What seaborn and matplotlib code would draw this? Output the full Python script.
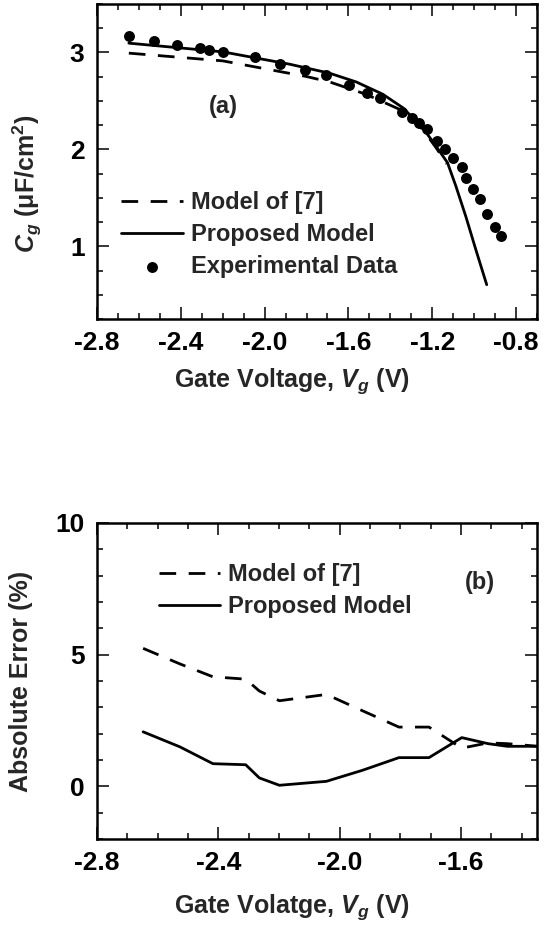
import matplotlib
matplotlib.use("Agg")
import matplotlib.pyplot as plt
from matplotlib.ticker import MultipleLocator, FormatStrFormatter
import seaborn as sns
import pandas as pd

# ---- Panel (a) data ----
exp_vg = [-2.648, -2.527, -2.418, -2.310, -2.265, -2.199, -2.044, -1.925, -1.805,
          -1.706, -1.598, -1.511, -1.448, -1.346, -1.297, -1.262, -1.225, -1.175,
          -1.138, -1.103, -1.059, -1.040, -1.005, -0.973, -0.941, -0.900, -0.873]
exp_cg = [3.165, 3.120, 3.079, 3.050, 3.024, 3.000, 2.955, 2.886, 2.820,
          2.765, 2.660, 2.586, 2.527, 2.386, 2.324, 2.276, 2.214, 2.086,
          2.000, 1.914, 1.817, 1.707, 1.594, 1.483, 1.335, 1.197, 1.110]

prop_vg = [-2.648, -2.199, -1.881, -1.690, -1.563, -1.436, -1.341, -1.246, -1.182,
           -1.127, -1.087, -1.040, -0.992, -0.940]
prop_cg = [3.096, 3.006, 2.879, 2.786, 2.696, 2.569, 2.431, 2.224, 2.034,
           1.862, 1.620, 1.310, 0.966, 0.604]

ref7_vg = [-2.648, -2.199, -1.801, -1.690, -1.517, -1.357, -1.246, -1.182, -1.130]
ref7_cg = [2.993, 2.913, 2.752, 2.696, 2.569, 2.414, 2.207, 2.018, 1.850]

# ---- Panel (b) data ----
err_vg = [-2.648, -2.527, -2.418, -2.310, -2.265, -2.199, -2.044, -1.925, -1.805,
          -1.706, -1.598, -1.511, -1.448, -1.346]
err_prop = [2.07, 1.50, 0.86, 0.82, 0.32, 0.04, 0.19, 0.61, 1.09,
            1.09, 1.85, 1.62, 1.52, 1.52]
err_ref7 = [5.24, 4.65, 4.16, 4.07, 3.62, 3.25, 3.49, 2.87, 2.25,
            2.25, 1.45, 1.65, 1.62, 1.52]

lab_ref7 = "Model of [7]"
lab_prop = "Proposed Model"
lab_exp = "Experimental Data"

sns.set_style("ticks")
plt.rcParams["font.family"] = ["Liberation Sans", "DejaVu Sans"]
plt.rcParams["font.weight"] = "bold"
plt.rcParams["axes.labelweight"] = "bold"
plt.rcParams["mathtext.fontset"] = "custom"
plt.rcParams["mathtext.rm"] = "Liberation Sans:bold"
plt.rcParams["mathtext.it"] = "Liberation Sans:italic:bold"
plt.rcParams["mathtext.bf"] = "Liberation Sans:bold"

FS_TICK = 19
FS_LAB = 18
FS_LEG = 17
LW = 2.0
DASH = (0, (6, 4.5))

fig = plt.figure(figsize=(5.44, 9.26), dpi=100)
W, H = 544.0, 926.0
ax1 = fig.add_axes([97 / W, 1 - 319 / H, 440 / W, 315 / H])
ax2 = fig.add_axes([97 / W, 1 - 839 / H, 440 / W, 316 / H])


def style_axis(ax):
    for s in ax.spines.values():
        s.set_linewidth(1.8)
        s.set_color("black")
    ax.tick_params(which="both", direction="in", top=True, right=True,
                   colors="black", width=1.1, labelsize=FS_TICK)
    ax.tick_params(which="major", length=8.5, pad=9)
    ax.tick_params(which="minor", length=4.5)
    for t in ax.get_xticklabels() + ax.get_yticklabels():
        t.set_fontweight("bold")


# Panel (a)
sns.lineplot(x=ref7_vg, y=ref7_cg, ax=ax1, color="black", lw=LW,
             linestyle=DASH, label=lab_ref7, sort=False)
sns.lineplot(x=prop_vg, y=prop_cg, ax=ax1, color="black", lw=LW,
             label=lab_prop, sort=False)
sns.scatterplot(x=exp_vg, y=exp_cg, ax=ax1, color="black", s=62,
                edgecolor="black", linewidth=0, label=lab_exp, zorder=3)
ax1.set_xlim(-2.8, -0.7)
ax1.set_ylim(0.25, 3.5)
ax1.xaxis.set_major_locator(MultipleLocator(0.4))
ax1.xaxis.set_minor_locator(MultipleLocator(0.1))
ax1.yaxis.set_major_locator(MultipleLocator(1))
ax1.yaxis.set_minor_locator(MultipleLocator(0.25))
ax1.xaxis.set_major_formatter(FormatStrFormatter("%.1f"))
ax1.yaxis.set_major_formatter(FormatStrFormatter("%d"))
style_axis(ax1)
ax1.set_xlabel(r"Gate Voltage, $V_g$ (V)", fontsize=FS_LAB, fontweight="bold")
ax1.set_ylabel(r"$C_g$ ($\mathregular{\mu}$F/cm$^2$)", fontsize=FS_LAB, fontweight="bold")
ax1.xaxis.set_label_coords(0.443, -0.15)
ax1.yaxis.set_label_coords(-0.12, 0.43)
ax1.text((223 - 97) / 440, (319 - 107) / 315, "(a)", transform=ax1.transAxes,
         ha="center", va="center", fontsize=FS_LEG, fontweight="bold")
leg1 = ax1.legend(loc="upper left", bbox_to_anchor=(0.055, 0.405), frameon=False,
                  fontsize=FS_LEG, handlelength=2.6, handletextpad=0.35,
                  labelspacing=0.37, borderaxespad=0, borderpad=0)
for t in leg1.get_texts():
    t.set_fontweight("bold")

# Panel (b)
sns.lineplot(x=err_vg, y=err_ref7, ax=ax2, color="black", lw=LW,
             linestyle=DASH, label=lab_ref7, sort=False)
sns.lineplot(x=err_vg, y=err_prop, ax=ax2, color="black", lw=LW,
             label=lab_prop, sort=False)
ax2.set_xlim(-2.8, -1.35)
ax2.set_ylim(-2, 10)
ax2.xaxis.set_major_locator(MultipleLocator(0.4))
ax2.xaxis.set_minor_locator(MultipleLocator(0.1))
ax2.yaxis.set_major_locator(MultipleLocator(5))
ax2.yaxis.set_minor_locator(MultipleLocator(1))
ax2.xaxis.set_major_formatter(FormatStrFormatter("%.1f"))
ax2.yaxis.set_major_formatter(FormatStrFormatter("%d"))
style_axis(ax2)
ax2.set_xlabel(r"Gate Volatge, $V_g$ (V)", fontsize=FS_LAB, fontweight="bold")
ax2.set_ylabel("Absolute Error (%)", fontsize=FS_LAB, fontweight="bold")
ax2.xaxis.set_label_coords(0.443, -0.168)
ax2.yaxis.set_label_coords(-0.145, 0.5)
ax2.text((480 - 97) / 440, (839 - 583) / 316, "(b)", transform=ax2.transAxes,
         ha="center", va="center", fontsize=FS_LEG, fontweight="bold")
leg2 = ax2.legend(loc="upper left", bbox_to_anchor=(0.14, 0.872), frameon=False,
                  fontsize=FS_LEG, handlelength=2.6, handletextpad=0.35,
                  labelspacing=0.37, borderaxespad=0, borderpad=0)
for t in leg2.get_texts():
    t.set_fontweight("bold")

fig.savefig("out.png", dpi=100)
